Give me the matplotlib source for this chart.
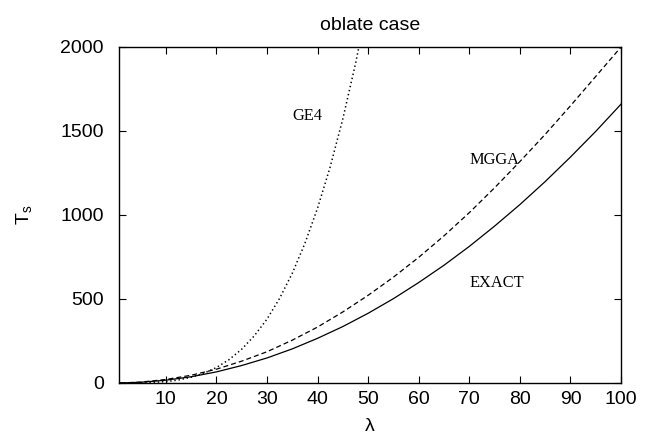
import numpy as np
import matplotlib
matplotlib.use('Agg')
import matplotlib.pyplot as plt

# kinetic energy T_s against lambda, oblate case
lam = [1, 5, 10, 15, 20, 25, 30, 35, 40, 45, 50,
       55, 60, 65, 70, 75, 80, 85, 90, 95, 100]
exact = [0.2, 4.2, 16.6, 37, 66, 104, 149, 203, 266, 336, 415,
         502, 598, 701, 813, 934, 1062, 1199, 1345, 1498, 1660]
mgga = [0.2, 5.2, 21, 46, 82, 130, 186, 255, 333, 423, 522,
        630, 748, 876, 1014, 1162, 1318, 1480, 1650, 1825, 2000]

# GE4 grows much faster, sampled only up to where it leaves the frame
lam_ge4 = [1, 5, 10, 12.5, 15, 17.5, 20, 22.5, 25, 27.5, 30, 32.5,
           35, 37.5, 40, 42.5, 45, 47.5, 50]
ge4 = [0.0, 0.7, 8, 18, 34, 58, 92, 139, 201, 281, 380, 504,
       653, 831, 1041, 1287, 1573, 1900, 2274]

x_ticks = [10, 20, 30, 40, 50, 60, 70, 80, 90, 100]
y_ticks = [0, 500, 1000, 1500, 2000]

# curve labels: (text, x, y)
labels = [('GE4', 35, 1590), ('MGGA', 70, 1330), ('EXACT', 70, 595)]

plt.rcParams['font.family'] = ['Liberation Sans', 'DejaVu Sans']
plt.rcParams['lines.scale_dashes'] = False

fig = plt.figure(figsize=(6.55, 4.42), dpi=100)
ax = fig.add_axes([0.1817, 0.1335, 0.7665, 0.7602])

ax.plot(lam, exact, color='black', lw=0.9, ls='-')
ax.plot(lam, mgga, color='black', lw=0.9, ls=(0, (3.6, 2.2)))
ax.plot(lam_ge4, ge4, color='black', lw=1.1, ls=(0, (1.0, 2.0)))

for txt, xx, yy in labels:
    ax.text(xx, yy, txt, family='Liberation Serif', fontsize=11.8,
            ha='left', va='center')

ax.set_xlim(0.75, 100)
ax.set_ylim(0, 2000)
ax.set_xticks(x_ticks)
ax.set_yticks(y_ticks)
ax.tick_params(direction='in', length=5, width=0.8, labelsize=14,
               top=True, right=True)
ax.tick_params(axis='x', pad=6)
ax.tick_params(axis='y', pad=11)
for sp in ax.spines.values():
    sp.set_linewidth(1.0)

ax.set_title('oblate case', fontsize=14, pad=12)
ax.set_xlabel('λ', fontsize=14, labelpad=7)
ax.set_ylabel('$\\mathregular{T_s}$', fontsize=14, labelpad=19)

plt.savefig('out.png', dpi=100)
